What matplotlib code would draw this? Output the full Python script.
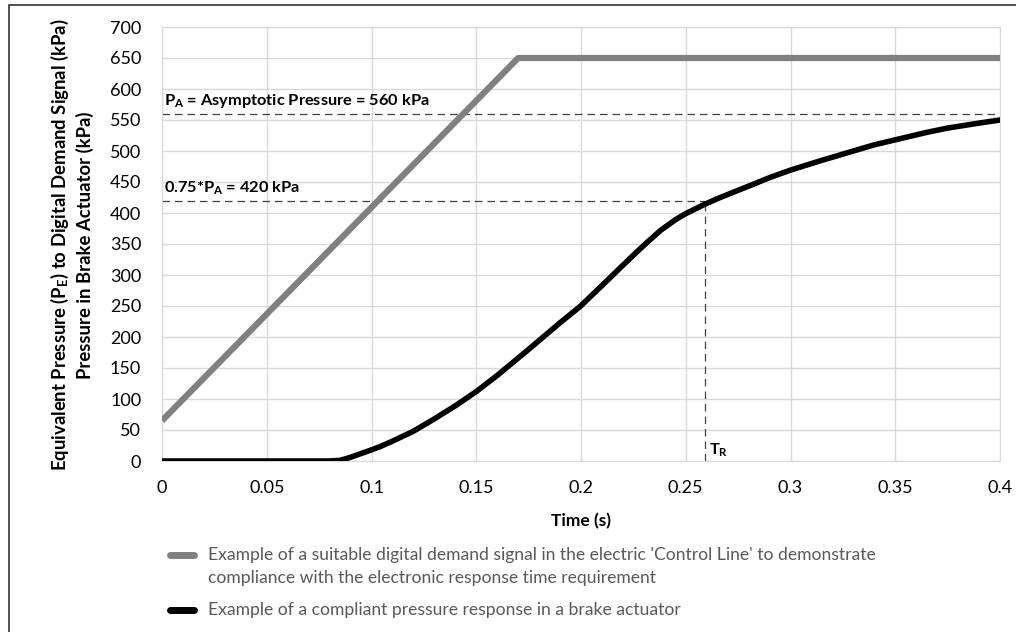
import numpy as np
import matplotlib
matplotlib.use('Agg')
import matplotlib.pyplot as plt
from matplotlib.patches import Rectangle
from matplotlib.lines import Line2D

plt.rcParams['font.family'] = ['Lato', 'DejaVu Sans']
plt.rcParams['mathtext.fontset'] = 'custom'
plt.rcParams['mathtext.rm'] = 'Lato'
plt.rcParams['mathtext.bf'] = 'Lato:bold'
plt.rcParams['mathtext.it'] = 'Lato:italic'

# demand signal (grey)
demand_t = [0.0, 0.17, 0.4]
demand_p = [65, 650, 650]

# brake actuator response (black)
resp_t = [0.0, 0.02, 0.04, 0.06, 0.08, 0.085, 0.09, 0.095, 0.1, 0.104, 0.11, 0.12, 0.125,
          0.13, 0.14, 0.15, 0.16, 0.175, 0.19, 0.1995, 0.21, 0.225, 0.232, 0.238, 0.245, 0.25,
          0.2584, 0.265, 0.279, 0.29, 0.2998, 0.315, 0.325, 0.34, 0.35, 0.365, 0.375, 0.39, 0.4]
resp_p = [0, 0, 0, 0, 0, 1, 6, 12, 18, 23, 32, 48, 58,
          68, 89, 112, 138, 180, 223, 249, 283, 332, 354, 372, 389, 399,
          413, 423, 442, 457, 469, 485, 495, 510, 518, 530, 537, 545, 550]

p_asym = 560
p_75 = 420
t_r = 0.259

xticks = [0, 0.05, 0.1, 0.15, 0.2, 0.25, 0.3, 0.35, 0.4]
xlabels = ['0', '0.05', '0.1', '0.15', '0.2', '0.25', '0.3', '0.35', '0.4']
yticks = list(range(0, 701, 50))

fig = plt.figure(figsize=(10.16, 6.32), dpi=100)
fig.patches.append(Rectangle((9/1016, -0.01), 1.0, 1 - 5/632 + 0.01, transform=fig.transFigure,
                             fill=False, edgecolor='#333333', linewidth=1.2))

ax = fig.add_axes([162/1016, 1 - 461/632, 838/1016, (461 - 27)/632])
ax.set_xlim(0, 0.4)
ax.set_ylim(0, 700)
ax.set_xticks(xticks)
ax.set_xticklabels(xlabels)
ax.set_yticks(yticks)
ax.grid(True, color='#d9d9d9', linewidth=1)
ax.set_axisbelow(True)
for s in ax.spines.values():
    s.set_color('#d9d9d9')
ax.tick_params(length=0, labelsize=13, colors='#000000')
ax.tick_params(axis='y', pad=15)
ax.tick_params(axis='x', pad=14)

ax.plot(demand_t, demand_p, color='#808080', linewidth=4.5, solid_capstyle='butt', zorder=3)
ax.plot(resp_t, resp_p, color='#000000', linewidth=4.0, zorder=4)

# reference lines
ax.plot([0, 0.4], [p_asym, p_asym], color='#404040', linewidth=0.9, dashes=(6, 4), zorder=2)
ax.plot([0, t_r], [p_75, p_75], color='#404040', linewidth=0.9, dashes=(6, 4), zorder=2)
ax.plot([t_r, t_r], [0, p_75], color='#404040', linewidth=0.9, dashes=(6, 4), zorder=2)

ax.text(0.001, p_asym + 6, r'P$_\mathbf{A}$ = Asymptotic Pressure = 560 kPa', fontsize=11.8,
        fontweight='bold', va='bottom', ha='left')
ax.text(0.001, p_75 + 6, r'0.75*P$_\mathbf{A}$ = 420 kPa', fontsize=11.8,
        fontweight='bold', va='bottom', ha='left')
ax.text(t_r + 0.002, 4, r'T$_\mathbf{R}$', fontsize=11.8, fontweight='bold', va='bottom', ha='left')

ax.set_xlabel('Time (s)', fontsize=12.5, fontweight='bold', labelpad=12)
fig.text(60/1016, 1 - 245/632, r'Equivalent Pressure (P$_\mathbf{E}$) to Digital Demand Signal (kPa)',
         rotation=90, fontsize=13.3, fontweight='bold', ha='center', va='center')
fig.text(85/1016, 1 - 245/632, 'Pressure in Brake Actuator (kPa)',
         rotation=90, fontsize=13.3, fontweight='bold', ha='center', va='center')

# legend
fig.add_artist(Line2D([170/1016, 194/1016], [1 - 555/632, 1 - 555/632], color='#808080',
                      linewidth=5, solid_capstyle='round', transform=fig.transFigure))
fig.add_artist(Line2D([170/1016, 194/1016], [1 - 610/632, 1 - 610/632], color='#000000',
                      linewidth=5, solid_capstyle='round', transform=fig.transFigure))
fig.text(208/1016, 1 - 555/632,
         "Example of a suitable digital demand signal in the electric 'Control Line' to demonstrate",
         fontsize=12.6, color='#595959', va='center')
fig.text(208/1016, 1 - 578/632, 'compliance with the electronic response time requirement',
         fontsize=12.6, color='#595959', va='center')
fig.text(208/1016, 1 - 610/632, 'Example of a compliant pressure response in a brake actuator',
         fontsize=12.6, color='#595959', va='center')

fig.savefig('out.png', dpi=100)
